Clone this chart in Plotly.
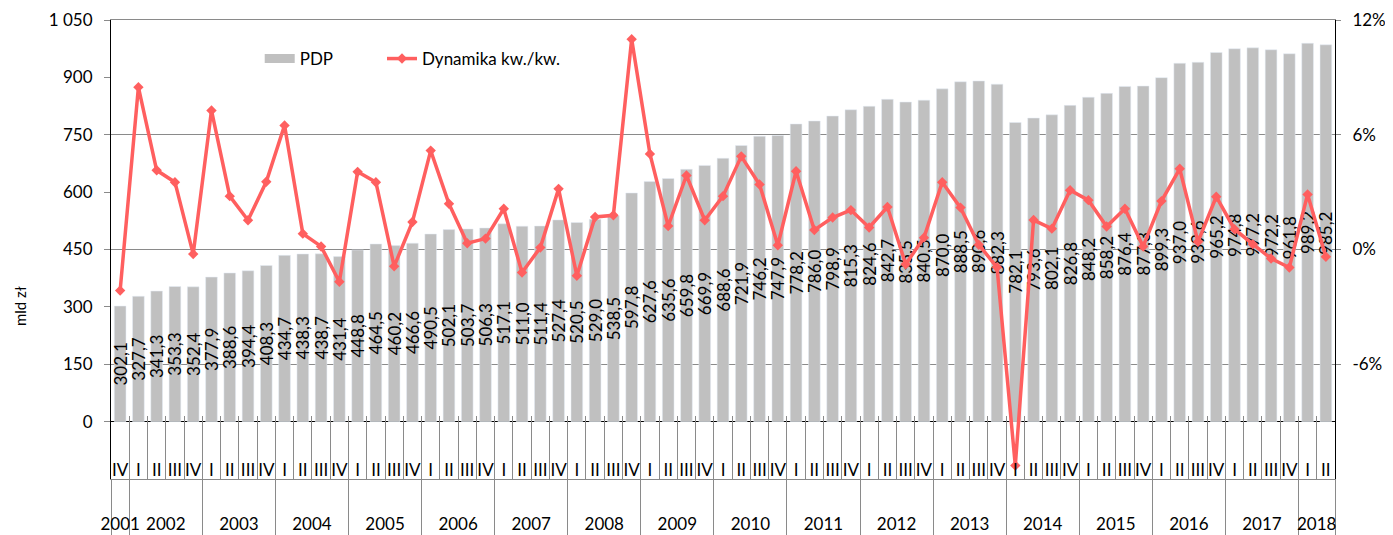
import plotly.graph_objects as go

# ---------------- data ----------------
years = [2001, 2002, 2003, 2004, 2005, 2006, 2007, 2008, 2009,
         2010, 2011, 2012, 2013, 2014, 2015, 2016, 2017, 2018]
quarters_per_year = [["IV"]] + [["I", "II", "III", "IV"]] * 16 + [["I", "II"]]

pdp = [302.1, 327.7, 341.3, 353.3, 352.4, 377.9, 388.6, 394.4, 408.3, 434.7,
       438.3, 438.7, 431.4, 448.8, 464.5, 460.2, 466.6, 490.5, 502.1, 503.7,
       506.3, 517.1, 511.0, 511.4, 527.4, 520.5, 529.0, 538.5, 597.8, 627.6,
       635.6, 659.8, 669.9, 688.6, 721.9, 746.2, 747.9, 778.2, 786.0, 798.9,
       815.3, 824.6, 842.7, 835.5, 840.5, 870.0, 888.5, 890.6, 882.3, 782.1,
       793.6, 802.1, 826.8, 848.2, 858.2, 876.4, 877.3, 899.3, 937.0, 939.6,
       965.2, 974.8, 977.2, 972.2, 961.8, 989.2, 985.2]

dynamika = [-2.15, 8.49, 4.14, 3.52, -0.24, 7.27, 2.79, 1.53, 3.54, 6.49,
            0.83, 0.16, -1.69, 4.06, 3.52, -0.88, 1.44, 5.17, 2.39, 0.33,
            0.57, 2.13, -1.20, 0.10, 3.17, -1.37, 1.70, 1.79, 11.00, 5.00,
            1.23, 3.87, 1.53, 2.79, 4.87, 3.40, 0.22, 4.09, 1.02, 1.67,
            2.06, 1.15, 2.22, -0.77, 0.62, 3.52, 2.19, 0.25, -0.93, -11.30,
            1.54, 1.09, 3.10, 2.58, 1.20, 2.13, 0.16, 2.53, 4.22, 0.40,
            2.76, 1.06, 0.28, -0.47, -0.94, 2.88, -0.38]

left_tickvals = [-150, 0, 150, 300, 450, 600, 750, 900, 1050]
left_ticktext = ["-150", "0", "150", "300", "450", "600", "750", "900", "1 050"]
right_tickvals = [-12, -6, 0, 6, 12]
right_ticktext = ["-12%", "-6%", "0%", "6%", "12%"]

# ---------------- derived categories ----------------
cats, qlabels = [], []
year_bounds, year_centers = [-0.5], []
idx = 0
for y, qs in zip(years, quarters_per_year):
    start = idx
    for q in qs:
        cats.append(f"{y} {q}")
        qlabels.append(q)
        idx += 1
    year_bounds.append(idx - 0.5)
    year_centers.append((start + idx - 1) / 2)

FONT = "Lato"
GRID = "#8A8A8A"
RED = "#FF5F5F"
BAR = "#C0C0C0"
n = len(cats)

fig = go.Figure()

fig.add_trace(go.Bar(
    x=cats, y=pdp, marker_color=BAR, showlegend=False,
    texttemplate="%{y:.1f}", textposition="inside", insidetextanchor="middle",
    textangle=-90, constraintext="none",
    textfont=dict(family=FONT, size=17, color="black"),
    hoverinfo="skip",
))

# legend-only entry drawn as a wide grey swatch
fig.add_trace(go.Scatter(
    x=[None], y=[None], mode="lines", name="PDP",
    line=dict(color=BAR, width=9), legend="legend",
))

fig.add_trace(go.Scatter(
    x=cats, y=dynamika, yaxis="y2", mode="lines+markers",
    name="Dynamika kw./kw.", legend="legend2",
    line=dict(color=RED, width=3.5),
    marker=dict(symbol="diamond", size=8, color=RED),
    cliponaxis=False,
))

# empty helper traces so the year axes exist
fig.add_trace(go.Scatter(x=year_bounds, y=[None] * len(year_bounds), xaxis="x2",
                         showlegend=False, hoverinfo="skip", mode="lines"))
fig.add_trace(go.Scatter(x=year_centers, y=[None] * len(year_centers), xaxis="x3",
                         showlegend=False, hoverinfo="skip", mode="lines"))

tickfont = dict(family=FONT, size=17, color="black")

fig.update_layout(
    width=1385, height=527,
    margin=dict(l=103, r=58, t=12, b=56),
    paper_bgcolor="white", plot_bgcolor="white",
    separators=", ",
    bargap=0.36,
    font=dict(family=FONT, size=17, color="black"),
    xaxis=dict(
        type="category", range=[-0.5, n - 0.5],
        tickmode="array", tickvals=cats, ticktext=qlabels, tickangle=0,
        tickson="boundaries", ticks="inside", ticklen=63,
        tickcolor=GRID, tickwidth=1,
        ticklabelposition="inside", ticklabelstandoff=-63,
        showline=True, linecolor=GRID, linewidth=1, mirror=True,
        showgrid=False, zeroline=False, tickfont=tickfont, automargin=False,
    ),
    xaxis2=dict(
        visible=True,
        overlaying="x", anchor="y", side="bottom", type="linear",
        range=[-0.5, n - 0.5], tickmode="array", tickvals=year_bounds,
        ticks="outside", ticklen=60, tickcolor=GRID, tickwidth=1,
        showticklabels=False, showgrid=False, zeroline=False, showline=False,
        automargin=False,
    ),
    xaxis3=dict(
        visible=True,
        overlaying="x", anchor="y", side="bottom", type="linear",
        range=[-0.5, n - 0.5], tickmode="array", tickvals=year_centers,
        ticktext=[str(y) for y in years], ticks="", tickangle=0,
        ticklabelstandoff=33,
        showgrid=False, zeroline=False, showline=False,
        tickfont=tickfont, automargin=False,
    ),
    yaxis=dict(
        range=[-150, 1050], tickmode="array",
        tickvals=left_tickvals, ticktext=left_ticktext,
        ticks="outside", ticklen=6, tickcolor=GRID,
        showgrid=False, zeroline=True, zerolinecolor="black", zerolinewidth=1,
        showline=True, linecolor="black", linewidth=1,
        ticklabelstandoff=8, tickfont=tickfont, automargin=False,
    ),
    yaxis2=dict(
        overlaying="y", side="right", anchor="x",
        range=[-12, 12], tickmode="array",
        tickvals=right_tickvals, ticktext=right_ticktext,
        ticks="outside", ticklen=5, tickcolor=GRID,
        showgrid=True, gridcolor=GRID, gridwidth=1, zeroline=False,
        showline=True, linecolor="black", linewidth=1,
        ticklabelstandoff=8, tickfont=tickfont, automargin=False,
    ),
    legend=dict(
        orientation="h", x=0.1215, y=0.915, xanchor="left", yanchor="middle",
        bgcolor="rgba(0,0,0,0)", font=dict(family=FONT, size=17, color="black"),
        itemwidth=30,
    ),
    legend2=dict(
        orientation="h", x=0.2214, y=0.915, xanchor="left", yanchor="middle",
        bgcolor="rgba(0,0,0,0)", font=dict(family=FONT, size=17, color="black"),
        itemwidth=30,
    ),
    annotations=[dict(
        text="mld zł", textangle=-90, showarrow=False,
        xref="paper", yref="paper", x=-0.0743, y=0.377,
        xanchor="center", yanchor="middle",
        font=dict(family=FONT, size=15, color="black"),
    )],
    showlegend=True,
)

fig.write_html("out.html")
